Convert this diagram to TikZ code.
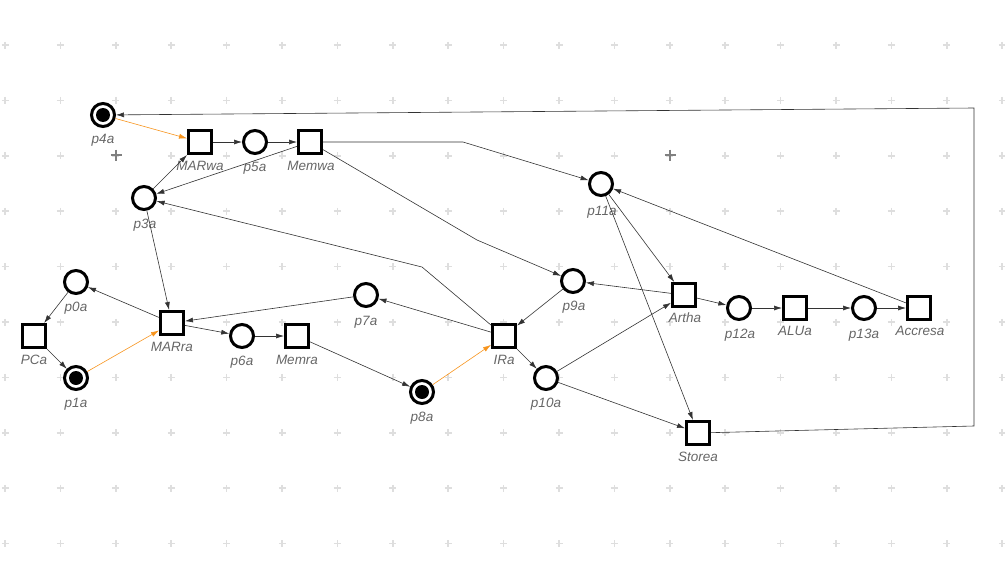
\documentclass[tikz,border=0pt]{standalone}
\usepackage{fontspec}
\setmainfont{Liberation Sans}
\usetikzlibrary{arrows.meta}
\newlength{\du}
\setlength{\du}{1pt}
\definecolor{arccolor}{rgb}{0.200000, 0.200000, 0.200000}
\definecolor{firecolor}{rgb}{0.968000, 0.580000, 0.114000}
\definecolor{labelcolor}{rgb}{0.400000, 0.400000, 0.400000}
\tikzset{
  place/.style={circle,draw=black,fill=white,line width=3\du,minimum size=23\du,inner sep=0pt},
  marked/.style={place,path picture={\fill[black] (path picture bounding box.center) circle (7\du);}},
  transition/.style={rectangle,draw=black,fill=white,line width=3\du,minimum size=23\du,inner sep=0pt},
  lbl/.style={text=labelcolor,font=\fontsize{13.5}{15}\selectfont\itshape,inner sep=0pt},
  arc/.style={draw=arccolor,line width=0.6\du,-{Latex[length=8pt,width=5pt]}},
  firing/.style={arc,draw=firecolor},
  gridmark/.style={draw=black!13,line width=1.6\du},
  origin/.style={draw=black!50,line width=1.6\du}
}

\begin{document}
\begin{tikzpicture}
\pgftransformxscale{1.000000}
\pgftransformyscale{-1.000000}
\useasboundingbox (0\du,0\du) rectangle (1005\du,565\du);
% grid
\foreach \i in {0,...,18}{
  \foreach \j in {0,...,9}{
    \draw[gridmark] ({5\du+\i*55.4\du},{45\du+\j*55.4\du}) +(-3.5\du,0) -- +(3.5\du,0) +(0,-3.5\du) -- +(0,3.5\du);
  }
}
\draw[origin] (116\du,155\du) +(-5.5\du,0) -- +(5.5\du,0) +(0,-5.5\du) -- +(0,5.5\du);
\draw[origin] (670\du,155\du) +(-5.5\du,0) -- +(5.5\du,0) +(0,-5.5\du) -- +(0,5.5\du);
% places
\node[marked] (p4a) at (103\du,115\du) {};
\node[place] (p5a) at (255\du,142\du) {};
\node[place] (p3a) at (144\du,198\du) {};
\node[place] (p11a) at (601\du,184\du) {};
\node[place] (p0a) at (76\du,282\du) {};
\node[marked] (p1a) at (76\du,378\du) {};
\node[place] (p6a) at (242\du,336\du) {};
\node[place] (p7a) at (366\du,295\du) {};
\node[place] (p9a) at (573\du,281\du) {};
\node[marked] (p8a) at (422\du,392\du) {};
\node[place] (p10a) at (546\du,378\du) {};
\node[place] (p12a) at (739\du,308\du) {};
\node[place] (p13a) at (864\du,308\du) {};
% transitions
\node[transition] (MARwa) at (200\du,142\du) {};
\node[transition] (Memwa) at (310\du,142\du) {};
\node[transition] (PCa) at (34\du,336\du) {};
\node[transition] (MARra) at (172\du,323\du) {};
\node[transition] (Memra) at (297\du,336\du) {};
\node[transition] (IRa) at (504\du,336\du) {};
\node[transition] (Artha) at (684\du,295\du) {};
\node[transition] (ALUa) at (795\du,308\du) {};
\node[transition] (Accresa) at (919\du,308\du) {};
\node[transition] (Storea) at (698\du,433\du) {};
% setfont left to latex
\node[lbl] (p4a-l) at (103\du,140\du) {p4a};
\node[lbl] (MARwa-l) at (200\du,166\du) {MARwa};
\node[lbl] (p5a-l) at (255\du,168\du) {p5a};
\node[lbl] (Memwa-l) at (311\du,166\du) {Memwa};
\node[lbl] (p3a-l) at (145\du,225\du) {p3a};
\node[lbl] (p11a-l) at (602\du,212\du) {p11a};
\node[lbl] (p0a-l) at (76\du,308\du) {p0a};
\node[lbl] (PCa-l) at (34\du,360\du) {PCa};
\node[lbl] (p1a-l) at (76\du,404\du) {p1a};
\node[lbl] (MARra-l) at (172\du,347\du) {MARra};
\node[lbl] (p6a-l) at (242\du,362\du) {p6a};
\node[lbl] (Memra-l) at (297\du,360\du) {Memra};
\node[lbl] (p7a-l) at (366\du,322\du) {p7a};
\node[lbl] (IRa-l) at (504\du,360\du) {IRa};
\node[lbl] (p9a-l) at (574\du,307\du) {p9a};
\node[lbl] (p8a-l) at (422\du,418\du) {p8a};
\node[lbl] (p10a-l) at (546\du,404\du) {p10a};
\node[lbl] (Artha-l) at (685\du,318\du) {Artha};
\node[lbl] (p12a-l) at (740\du,335\du) {p12a};
\node[lbl] (ALUa-l) at (795\du,331\du) {ALUa};
\node[lbl] (p13a-l) at (864\du,335\du) {p13a};
\node[lbl] (Accresa-l) at (920\du,331\du) {Accresa};
\node[lbl] (Storea-l) at (698\du,457\du) {Storea};
% bends
\coordinate (b1) at (463\du,142\du);
\coordinate (b2) at (477\du,240\du);
\coordinate (b3) at (422\du,267\du);
\coordinate (b4) at (974\du,426\du);
\coordinate (b5) at (974\du,108\du);
% arcs
\draw[firing] (p4a) -- (MARwa);
\draw[arc] (MARwa) -- (p5a);
\draw[arc] (p5a) -- (Memwa);
\draw[arc] (Memwa) -- (p3a);
\draw[arc] (p3a) -- (MARwa);
\draw[arc] (Memwa) -- (b1) -- (p11a);
\draw[arc] (Memwa) -- (b2) -- (p9a);
\draw[arc] (IRa) -- (b3) -- (p3a);
\draw[arc] (p3a) -- (MARra);
\draw[arc] (MARra) -- (p0a);
\draw[arc] (p0a) -- (PCa);
\draw[arc] (PCa) -- (p1a);
\draw[firing] (p1a) -- (MARra);
\draw[arc] (MARra) -- (p6a);
\draw[arc] (p6a) -- (Memra);
\draw[arc] (Memra) -- (p8a);
\draw[arc] (p7a) -- (MARra);
\draw[arc] (IRa) -- (p7a);
\draw[firing] (p8a) -- (IRa);
\draw[arc] (p9a) -- (IRa);
\draw[arc] (IRa) -- (p10a);
\draw[arc] (Artha) -- (p9a);
\draw[arc] (p10a) -- (Artha);
\draw[arc] (p10a) -- (Storea);
\draw[arc] (p11a) -- (Artha);
\draw[arc] (p11a) -- (Storea);
\draw[arc] (Artha) -- (p12a);
\draw[arc] (p12a) -- (ALUa);
\draw[arc] (ALUa) -- (p13a);
\draw[arc] (p13a) -- (Accresa);
\draw[arc] (Accresa) -- (p11a);
\draw[arc] (Storea) -- (b4) -- (b5) -- (p4a);
\end{tikzpicture}
\end{document}
